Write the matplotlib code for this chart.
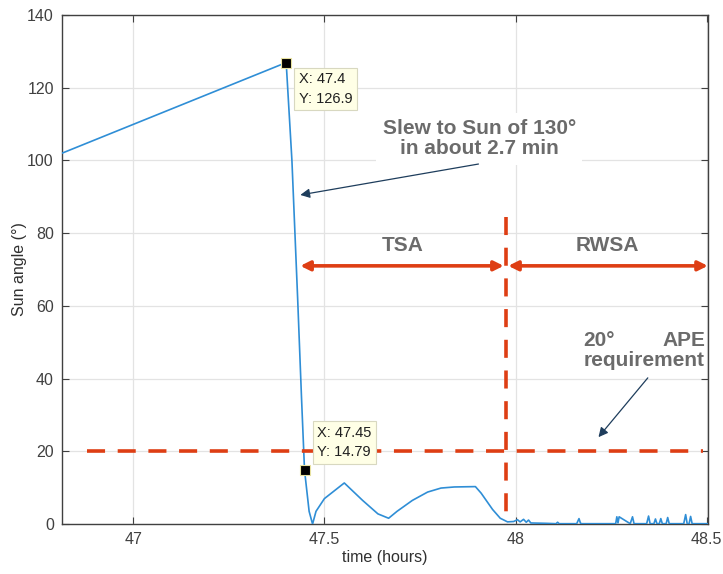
import numpy as np
import matplotlib.pyplot as plt

plt.rcParams['font.family'] = ['Liberation Sans', 'DejaVu Sans']

# sun angle trace (hours, degrees)
t = [46.814, 47.400, 47.415, 47.430, 47.440, 47.448, 47.460, 47.469, 47.478,
     47.500, 47.552, 47.600, 47.640, 47.668, 47.690, 47.730, 47.770, 47.805,
     47.840, 47.895, 47.910, 47.940, 47.960, 47.979, 47.995, 48.005, 48.012,
     48.021, 48.028, 48.034, 48.040, 48.080, 48.106, 48.110, 48.114, 48.160,
     48.166, 48.170, 48.174, 48.262, 48.265, 48.268, 48.271, 48.300, 48.306,
     48.310, 48.343, 48.348, 48.352, 48.362, 48.366, 48.370, 48.376, 48.380,
     48.384, 48.394, 48.398, 48.402, 48.440, 48.445, 48.449, 48.454, 48.458,
     48.462, 48.503]
angle = [102.0, 126.9, 100.0, 62.0, 35.0, 14.79, 3.5, 0.0, 3.5,
         7.0, 11.3, 6.5, 2.8, 1.6, 3.5, 6.5, 8.8, 9.9,
         10.2, 10.3, 8.5, 4.0, 1.6, 0.6, 0.7, 1.2, 0.6,
         1.3, 0.5, 1.1, 0.3, 0.2, 0.1, 0.5, 0.1, 0.1,
         1.5, 0.2, 0.1, 0.1, 2.0, 0.3, 2.0, 0.1, 2.0,
         0.1, 0.1, 2.2, 0.1, 0.1, 1.4, 0.1, 0.1, 1.5,
         0.1, 0.1, 1.8, 0.1, 0.1, 2.6, 0.1, 0.1, 2.1,
         0.1, 0.1]

tips_x = [47.4, 47.448]
tips_y = [126.9, 14.79]
tips_txt = ['X: 47.4\nY: 126.9', 'X: 47.45\nY: 14.79']
tips_off = [(9, -7), (9, 8)]
tips_va = ['top', 'bottom']

ape_limit = 20
t_switch = 47.975

red = '#DE3E14'
blue = '#2F8ED6'
grey_txt = '#6B6B6B'
navy = '#1E3D5C'

fig = plt.figure(figsize=(7.23, 5.74), dpi=100)
ax = fig.add_axes([0.086, 0.087, 0.893, 0.887])

ax.plot(t, angle, color=blue, lw=1.2, zorder=3)

# requirement and mode switch lines
ax.plot([46.88, 48.49], [ape_limit, ape_limit], color=red, lw=2.6,
        dashes=(5, 3.5), zorder=4)
ax.plot([t_switch, t_switch], [84.5, 0], color=red, lw=2.6,
        dashes=(5, 3.5), zorder=4)

# data tips
ax.scatter(tips_x, tips_y, marker='s', s=55, color='black',
           edgecolor='#E8E2A0', lw=0.8, zorder=6)
for x, y, s, off, va in zip(tips_x, tips_y, tips_txt, tips_off, tips_va):
    ax.annotate(s, (x, y), xytext=off, textcoords='offset points',
                ha='left', va=va, fontsize=10.5, color='#202020',
                linespacing=1.5, zorder=7,
                bbox=dict(boxstyle='square,pad=0.3', fc='#FFFFE6',
                          ec='#D8D8C0', lw=0.8))

# mode extents
for x0, x1 in [(47.437, 47.969), (47.981, 48.503)]:
    ax.annotate('', xy=(x0, 71), xytext=(x1, 71),
                arrowprops=dict(arrowstyle='<|-|>', color=red, lw=2.6,
                                mutation_scale=14, shrinkA=0, shrinkB=0),
                annotation_clip=False, zorder=5)
ax.text(47.705, 76.5, 'TSA', ha='center', va='center', fontsize=15,
        fontweight='bold', color=grey_txt)
ax.text(48.24, 76.5, 'RWSA', ha='center', va='center', fontsize=15,
        fontweight='bold', color=grey_txt)

ax.text(47.905, 106, 'Slew to Sun of 130°\nin about 2.7 min',
        ha='center', va='center', fontsize=15, fontweight='bold',
        color=grey_txt, linespacing=1.1, zorder=5,
        bbox=dict(boxstyle='square,pad=0.3', fc='white', ec='none'))
ax.annotate('', xy=(47.437, 90.5), xytext=(47.903, 99),
            arrowprops=dict(arrowstyle='-|>', color=navy, lw=0.9,
                            mutation_scale=14, shrinkA=0, shrinkB=0),
            zorder=5)

# justified two-line label
ape_kw = dict(va='center', fontsize=15, fontweight='bold', color=grey_txt,
              zorder=5)
ax.text(48.178, 50.6, '20°', ha='left', **ape_kw)
ax.text(48.497, 50.6, 'APE', ha='right', **ape_kw)
ax.text(48.178, 45.0, 'requirement', ha='left', **ape_kw)
ax.annotate('', xy=(48.217, 23.9), xytext=(48.346, 40.2),
            arrowprops=dict(arrowstyle='-|>', color=navy, lw=0.9,
                            mutation_scale=14, shrinkA=0, shrinkB=0),
            zorder=5)

ax.set_xlim(46.814, 48.503)
ax.set_ylim(0, 140)
ax.set_xticks([47, 47.5, 48, 48.5])
ax.set_xticklabels(['47', '47.5', '48', '48.5'])
ax.set_yticks(np.arange(0, 141, 20))
ax.grid(True, color='#E3E3E3', lw=0.9)
ax.set_axisbelow(True)
ax.tick_params(direction='in', top=True, right=True, labelsize=11.5,
               colors='#404040', length=5, pad=6)
for sp in ax.spines.values():
    sp.set_color('#404040')
    sp.set_linewidth(1.0)
ax.set_xlabel('time (hours)', fontsize=11.5, color='#303030', labelpad=2)
ax.set_ylabel('Sun angle (°)', fontsize=11.5, color='#303030', labelpad=0)

fig.savefig('out.png', dpi=100)
